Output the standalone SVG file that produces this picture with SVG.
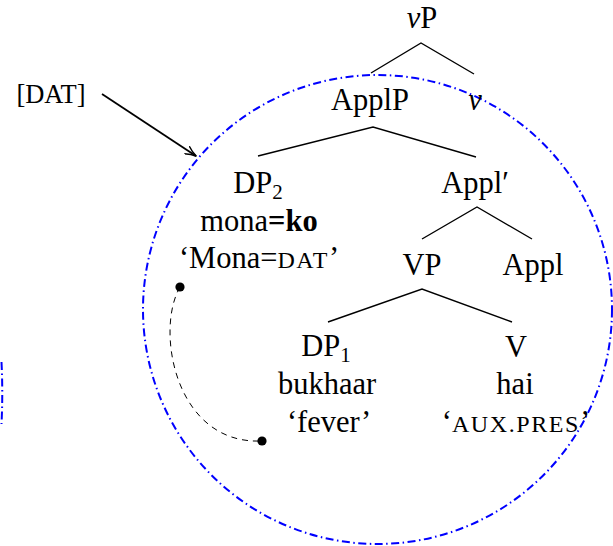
<svg xmlns="http://www.w3.org/2000/svg" width="613" height="546" viewBox="0 0 613 546">
  <style>
    text { font-family: "Liberation Serif", "Times New Roman", serif; font-size: 30.5px; fill: #000; text-anchor: middle; }
    .sc { font-size: 24px; letter-spacing: 1.6px; }
    .sub { font-size: 21px; }
    .b { font-weight: bold; }
    .it { font-style: italic; }
    .edge { stroke: #000; stroke-width: 1.4; fill: none; }
    .halo { stroke: #0000ff; stroke-width: 2; fill: none; stroke-dasharray: 8 3.5 1.5 3.5; }
  </style>
  <defs>
    <marker id="arrow" viewBox="0 0 12 10" refX="11" refY="5" markerWidth="12" markerHeight="10" markerUnits="userSpaceOnUse" orient="auto">
      <path d="M0,0.5 Q6,4 11.5,5 Q6,6 0,9.5" fill="none" stroke="#000" stroke-width="1.4"/>
    </marker>
  </defs>

  <!-- domain boundaries -->
  <g id="domain">
    <circle class="halo" cx="377.5" cy="309.5" r="234.5"/>
    <path class="halo" d="M1.5,362 Q3,393 1.5,424"/>
  </g>

  <!-- branches, pointer arrow and movement path -->
  <g id="connectors">
    <path class="edge" d="M371,73 L421,43 L474,74"/>
    <path class="edge" d="M258,156 L373,127 L476,157"/>
    <path class="edge" d="M422,239 L477,207 L532,239"/>
    <path class="edge" d="M328,322 L422,289 L512,322"/>
    <line x1="102" y1="94" x2="196" y2="156" stroke="#000" stroke-width="1.8" marker-end="url(#arrow)"/>
    <path d="M180,287 C155,330 175,445 262,441" fill="none" stroke="#000" stroke-width="1" stroke-dasharray="6 5"/>
    <circle cx="180" cy="287" r="4.6" fill="#000"/>
    <circle cx="262" cy="441" r="4.6" fill="#000"/>
  </g>

  <g id="label-dat">
    <text x="51" y="103" style="font-size:26.5px">[DAT]</text>
  </g>

  <g id="node-vP">
    <text x="422" y="28"><tspan class="it">v</tspan>P</text>
  </g>
  <g id="node-ApplP">
    <text x="370" y="110">ApplP</text>
  </g>
  <g id="node-v">
    <text x="475" y="110" class="it">v</text>
  </g>
  <g id="node-DP2">
    <text x="258" y="193">DP<tspan class="sub" dy="6">2</tspan></text>
    <text x="259" y="231">mona<tspan class="b">=ko</tspan></text>
    <text x="259" y="268">‘Mona=<tspan class="sc">DAT</tspan>’</text>
  </g>
  <g id="node-Applbar">
    <text x="475" y="193">Appl′</text>
  </g>
  <g id="node-VP">
    <text x="422" y="275">VP</text>
  </g>
  <g id="node-Appl">
    <text x="533" y="275">Appl</text>
  </g>
  <g id="node-DP1">
    <text x="326" y="356">DP<tspan class="sub" dy="6">1</tspan></text>
    <text x="327" y="394">bukhaar</text>
    <text x="329" y="432">‘fever’</text>
  </g>
  <g id="node-V">
    <text x="516" y="357">V</text>
    <text x="515" y="394">hai</text>
    <text x="516" y="432">‘<tspan class="sc">AUX.PRES</tspan>’</text>
  </g>
</svg>
